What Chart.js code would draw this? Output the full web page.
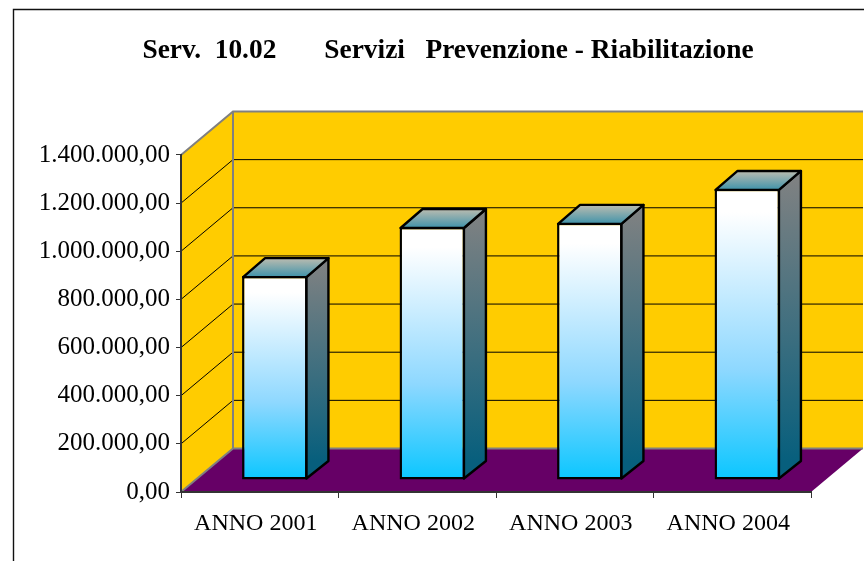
<!DOCTYPE html>
<html>
<head>
<meta charset="utf-8">
<style>html,body{margin:0;padding:0;background:#fff}#w{position:relative;width:864px;height:561px}canvas{display:block}</style>
<script src="https://cdn.jsdelivr.net/npm/chart.js@4"></script>
</head>
<body>
<div id="w"><canvas id="c" width="864" height="561"></canvas></div>
<script>
const titleText = "Serv.  10.02       Servizi   Prevenzione - Riabilitazione";
const categories = ["ANNO 2001", "ANNO 2002", "ANNO 2003", "ANNO 2004"];
const serviceValues = [847000, 1051000, 1068000, 1209000];
const yMax = 1400000;
const yStep = 200000;

const FONT = "'Liberation Serif'";
const WALL = {dx: 52, dy: 43.5};
const BAR_SHIFT = {dx: 15, dy: 12};
const BAR_DEPTH = {dx: 22, dy: 19, dyBase: 17.5};

function fmt(v){
  return Math.round(v).toString().replace(/\B(?=(\d{3})+$)/g, ".") + ",00";
}

const scene = {
  id: "scene",
  afterLayout(chart){
    // the tick labels are wider than the reserved axis box: widen the label area
    chart.scales.y.left = 15;
  },
  beforeDraw(chart){
    const {ctx, chartArea: a, scales: {y}} = chart;
    const {dx, dy} = WALL;
    ctx.save();
    ctx.fillStyle = "#fff"; ctx.fillRect(0,0,chart.width,chart.height);
    // frame
    ctx.strokeStyle = "#111"; ctx.lineWidth = 1.4;
    ctx.beginPath(); ctx.moveTo(13.5,561); ctx.lineTo(13.5,9.5); ctx.lineTo(864,9.5); ctx.stroke();
    // back wall + side wall
    ctx.fillStyle = "#ffcc00";
    ctx.beginPath();
    ctx.moveTo(a.left,a.bottom); ctx.lineTo(a.left,a.top); ctx.lineTo(a.left+dx,a.top-dy);
    ctx.lineTo(a.right+dx,a.top-dy); ctx.lineTo(a.right+dx,a.bottom-dy); ctx.lineTo(a.left+dx,a.bottom-dy);
    ctx.closePath(); ctx.fill();
    // floor
    ctx.fillStyle = "#660066";
    ctx.beginPath();
    ctx.moveTo(a.left,a.bottom); ctx.lineTo(a.left+dx,a.bottom-dy);
    ctx.lineTo(a.right+dx,a.bottom-dy); ctx.lineTo(a.right,a.bottom);
    ctx.closePath(); ctx.fill();
    // grid lines on the walls
    ctx.strokeStyle = "#000"; ctx.lineWidth = 1;
    y.ticks.forEach(t => {
      if (t.value === 0 || t.value === yMax) return;
      const p = y.getPixelForValue(t.value);
      ctx.beginPath(); ctx.moveTo(a.left,p); ctx.lineTo(a.left+dx,p-dy); ctx.lineTo(a.right+dx,p-dy); ctx.stroke();
    });
    // grey wall edges
    ctx.strokeStyle = "#808080"; ctx.lineWidth = 2;
    ctx.beginPath();
    ctx.moveTo(a.left,a.top); ctx.lineTo(a.left+dx,a.top-dy); ctx.lineTo(a.right+dx,a.top-dy);
    ctx.moveTo(a.left+dx,a.top-dy); ctx.lineTo(a.left+dx,a.bottom-dy);
    ctx.moveTo(a.left,a.bottom); ctx.lineTo(a.left+dx,a.bottom-dy); ctx.lineTo(a.right+dx,a.bottom-dy);
    ctx.stroke();
    ctx.restore();
  },
  beforeDatasetDraw(chart, args){
    const ctx = chart.ctx;
    ctx.save();
    ctx.translate(BAR_SHIFT.dx, -BAR_SHIFT.dy);
    args.meta.data.forEach(bar => {
      const l = bar.x - bar.width/2 + 1, r = bar.x + bar.width/2 - 1;
      const t = bar.y + 1, b = bar.base - 1;
      const {dx, dy, dyBase} = BAR_DEPTH;
      ctx.lineWidth = 2.4; ctx.strokeStyle = "#000"; ctx.lineJoin = "round";
      let g = ctx.createLinearGradient(0,t-dy,0,b-dyBase);
      g.addColorStop(0,"#828282"); g.addColorStop(1,"#075f7d");
      ctx.fillStyle = g;
      ctx.beginPath(); ctx.moveTo(r,t); ctx.lineTo(r+dx,t-dy); ctx.lineTo(r+dx,b-dyBase); ctx.lineTo(r,b); ctx.closePath();
      ctx.fill(); ctx.stroke();
      g = ctx.createLinearGradient(0,t-dy,0,t);
      g.addColorStop(0,"#bcbcb0"); g.addColorStop(1,"#3f93aa");
      ctx.fillStyle = g;
      ctx.beginPath(); ctx.moveTo(l,t); ctx.lineTo(l+dx,t-dy); ctx.lineTo(r+dx,t-dy); ctx.lineTo(r,t); ctx.closePath();
      ctx.fill(); ctx.stroke();
    });
  },
  afterDatasetDraw(chart){ chart.ctx.restore(); }
};

new Chart(document.getElementById("c"), {
  type: "bar",
  data: {
    labels: categories,
    datasets: [{
      data: serviceValues,
      clip: false,
      barPercentage: 0.415,
      categoryPercentage: 1,
      borderColor: "#000",
      borderWidth: 2.4,
      borderSkipped: false,
      backgroundColor(c){
        const y = c.chart.scales.y;
        if (!y || c.raw === undefined) return "#7fdcff";
        const p0 = y.getPixelForValue(c.raw), p1 = y.getPixelForValue(0);
        if (!isFinite(p0) || !isFinite(p1)) return "#7fdcff";
        const g = c.chart.ctx.createLinearGradient(0, p0, 0, p1);
        g.addColorStop(0, "#ffffff");
        g.addColorStop(0.08, "#ffffff");
        g.addColorStop(0.62, "#8ed8ff");
        g.addColorStop(1, "#0ac6ff");
        return g;
      }
    }]
  },
  plugins: [scene],
  options: {
    responsive: false,
    animation: false,
    devicePixelRatio: 1,
    layout: {padding: {left: 85, right: 53, top: 0, bottom: 0}},
    plugins: {
      legend: {display: false},
      tooltip: {enabled: false},
      title: {
        display: true,
        text: titleText,
        color: "#000",
        font: {family: FONT, size: 27.4, weight: "bold"},
        padding: {top: 34, bottom: 88.1}
      }
    },
    scales: {
      x: {
        afterFit(s){ s.height = 69; },
        grid: {drawOnChartArea: false, color: "#333", lineWidth: 1, tickLength: 6, tickColor: "#333"},
        border: {color: "#333", width: 2},
        ticks: {color: "#000", font: {family: FONT, size: 24}, labelOffset: -4, padding: 11, maxRotation: 0, autoSkip: false}
      },
      y: {
        min: 0, max: yMax,
        afterFit(s){ s.width = 96; },
        grid: {drawOnChartArea: false, color: "#333", lineWidth: 1, tickLength: 5, tickColor: "#333"},
        border: {color: "#333", width: 2},
        ticks: {stepSize: yStep, color: "#000", font: {family: FONT, size: 25}, padding: 6, callback: v => fmt(v)}
      }
    }
  }
});
</script>
</body>
</html>
